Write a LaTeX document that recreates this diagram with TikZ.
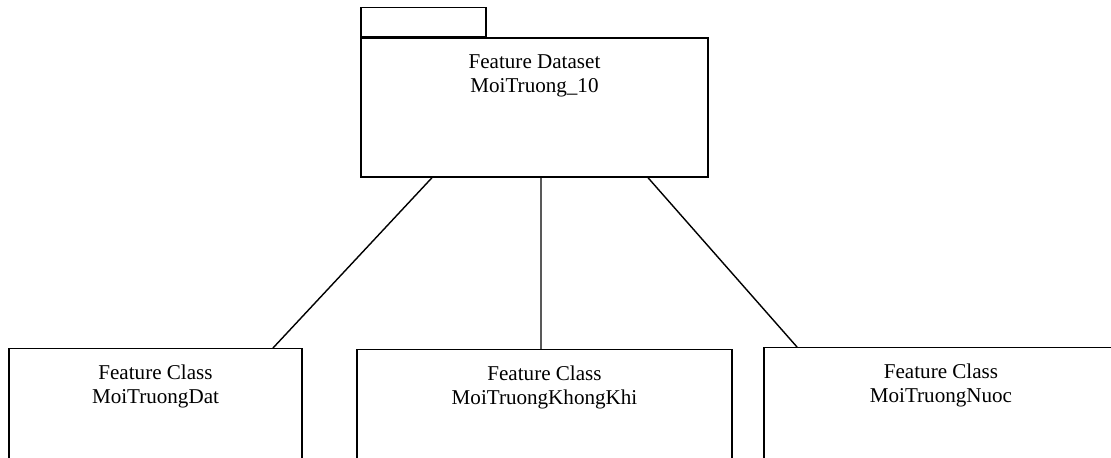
\documentclass[tikz,border=0pt]{standalone}
\usepackage{fontspec}
\setmainfont{Liberation Serif}
\usepackage{tikz}
\usetikzlibrary{positioning}

\begin{document}
\begin{tikzpicture}[
    every node/.style={font=\fontsize{12pt}{13.6pt}\selectfont},
    box/.style={rectangle, draw, line width=0.8pt, inner sep=0pt},
    classbox/.style={box, minimum height=3cm, anchor=north},
    label/.style={align=center, anchor=north},
    link/.style={line width=0.8pt},
]
\useasboundingbox (0,0) rectangle (22.22,9.16);
\clip (0,0) rectangle (22.22,9.16);

% Feature dataset (folder)
\node[box, minimum width=6.94cm, minimum height=2.78cm] (dataset) at (10.69,7.01) {};
\node[box, minimum width=2.5cm, minimum height=0.58cm, anchor=south west]
    (tab) at (dataset.north west) {};
\node[label, below=0.22cm of dataset.north] (datasettxt)
    {Feature Dataset\\MoiTruong\_10};

% Feature classes
\node[classbox, minimum width=5.86cm] (datclass) at (3.11,2.20) {};
\node[label, below=0.22cm of datclass.north] (dattxt)
    {Feature Class\\MoiTruongDat};

\node[classbox, minimum width=7.5cm] (khikclass) at (10.89,2.18) {};
\node[label, below=0.22cm of khikclass.north] (khiktxt)
    {Feature Class\\MoiTruongKhongKhi};

\node[classbox, minimum width=7.08cm] (nuocclass) at (18.82,2.22) {};
\node[label, below=0.22cm of nuocclass.north] (nuoctxt)
    {Feature Class\\MoiTruongNuoc};

% Links
\draw[link] ([xshift=-2.05cm]dataset.south) -- ([xshift=2.35cm]datclass.north);
\draw[link] ([xshift=0.13cm]dataset.south) -- ([xshift=-0.07cm]khikclass.north);
\draw[link] ([xshift=2.27cm]dataset.south) -- ([xshift=-2.88cm]nuocclass.north);

\end{tikzpicture}
\end{document}
